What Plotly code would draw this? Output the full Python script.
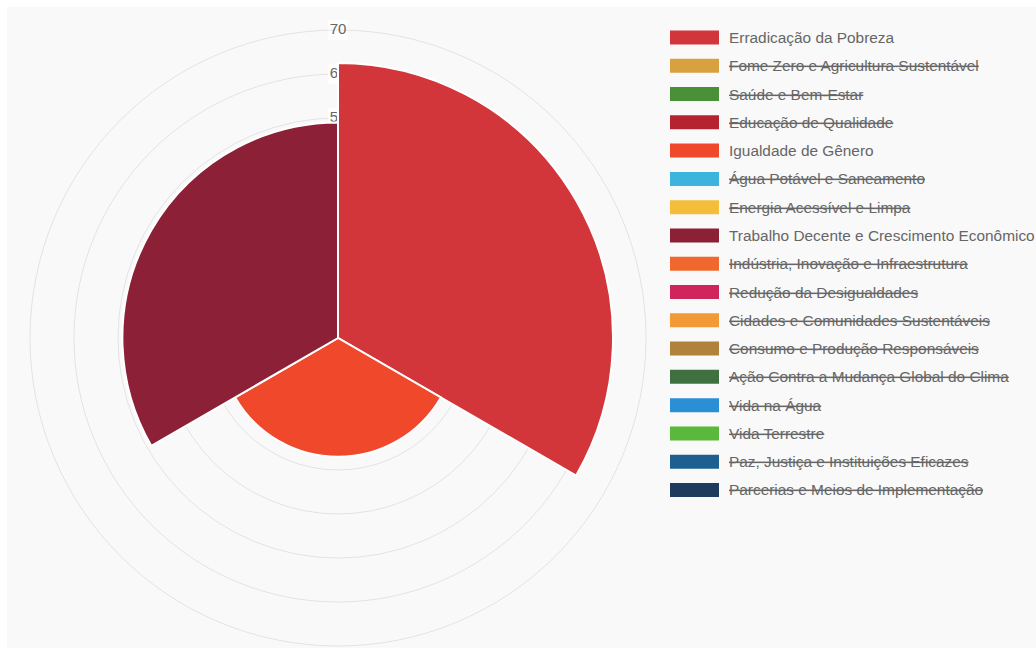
import plotly.graph_objects as go

# Sustainable Development Goals and their scores (hidden goals carry no value)
goals = [
    "Erradicação da Pobreza",
    "Fome Zero e Agricultura Sustentável",
    "Saúde e Bem-Estar",
    "Educação de Qualidade",
    "Igualdade de Gênero",
    "Água Potável e Saneamento",
    "Energia Acessível e Limpa",
    "Trabalho Decente e Crescimento Econômico",
    "Indústria, Inovação e Infraestrutura",
    "Redução da Desigualdades",
    "Cidades e Comunidades Sustentáveis",
    "Consumo e Produção Responsáveis",
    "Ação Contra a Mudança Global do Clima",
    "Vida na Água",
    "Vida Terrestre",
    "Paz, Justiça e Instituições Eficazes",
    "Parcerias e Meios de Implementação",
]
scores = [62.5, None, None, None, 27, None, None, 49, None,
          None, None, None, None, None, None, None, None]
shown = [True, False, False, False, True, False, False, True, False,
         False, False, False, False, False, False, False, False]
colors = [
    "#D3363A", "#D9A040", "#4A9038", "#B5232E", "#F0482A", "#3CB4DC",
    "#F5BE3A", "#8C2036", "#F0682E", "#CF255C", "#F29A35", "#B0823A",
    "#3E7040", "#2A8FD5", "#5AB83A", "#1D5F8F", "#1E3A5C",
]
ring_ticks = [10, 20, 30, 40, 50, 60, 70]
r_max = 70

grid_color = "rgba(0,0,0,0.09)"
text_color = "#666666"
font_family = "Liberation Sans, Arial, sans-serif"

W, H = 1036, 650
cx, cy, R = 338, 338, 308
dom_x = [(cx - R) / W, (cx + R) / W]
dom_y = [1 - (cy + R) / H, 1 - (cy - R) / H]

fig = go.Figure()

# Scale labels (bottom polar, drawn beneath the wedges)
fig.add_trace(go.Scatterpolar(
    r=ring_ticks,
    theta=[0] * len(ring_ticks),
    mode="markers+text",
    text=[str(t) for t in ring_ticks],
    textposition="middle center",
    textfont=dict(size=15, color=text_color, family=font_family),
    marker=dict(symbol="square", size=20, color="rgba(255,255,255,0.75)"),
    hoverinfo="skip",
    showlegend=False,
    subplot="polar",
))

# Visible goals split the circle equally
vis_idx = [i for i, s in enumerate(shown) if s]
width = 360 / len(vis_idx)
fig.add_trace(go.Barpolar(
    r=[scores[i] for i in vis_idx],
    theta=[width * (k + 0.5) for k in range(len(vis_idx))],
    width=[width] * len(vis_idx),
    marker=dict(color=[colors[i] for i in vis_idx],
                line=dict(color="white", width=2)),
    text=[goals[i] for i in vis_idx],
    hoverinfo="text+r",
    showlegend=False,
    subplot="polar2",
))

fig.update_layout(
    width=W, height=H,
    margin=dict(l=0, r=0, t=0, b=0),
    paper_bgcolor="white",
    showlegend=False,
    font=dict(family=font_family, color=text_color),
    polar=dict(
        domain=dict(x=dom_x, y=dom_y),
        bgcolor="rgba(0,0,0,0)",
        radialaxis=dict(range=[0, r_max], tickvals=ring_ticks[:-1],
                        showticklabels=False, ticks="", showline=False,
                        showgrid=True, gridcolor=grid_color, gridwidth=1),
        angularaxis=dict(direction="clockwise", rotation=90,
                         showgrid=False, showticklabels=False, ticks="",
                         showline=True, linecolor=grid_color, linewidth=1),
    ),
    polar2=dict(
        domain=dict(x=dom_x, y=dom_y),
        bgcolor="rgba(0,0,0,0)",
        radialaxis=dict(range=[0, r_max], visible=False),
        angularaxis=dict(direction="clockwise", rotation=90, visible=False),
    ),
)

# Panel background
shapes = [dict(type="rect", xref="paper", yref="paper",
               x0=7 / W, x1=1, y0=1 - 648 / H, y1=1 - 7 / H,
               fillcolor="#f9f9f9", line=dict(width=0), layer="below")]

# Legend: colour box + label, struck through when the goal is hidden
annotations = []
row0, row_gap = 37.5, 28.28
for i, (name, col, on) in enumerate(zip(goals, colors, shown)):
    yc = row0 + i * row_gap
    shapes.append(dict(type="rect", xref="paper", yref="paper",
                       x0=670 / W, x1=719 / W,
                       y0=1 - (yc + 7) / H, y1=1 - (yc - 7) / H,
                       fillcolor=col, line=dict(width=0)))
    annotations.append(dict(xref="paper", yref="paper",
                            x=727 / W, y=1 - yc / H,
                            xanchor="left", yanchor="middle",
                            text=name if on else f"<s>{name}</s>",
                            showarrow=False,
                            font=dict(size=15.4, color=text_color,
                                      family=font_family)))

fig.update_layout(shapes=shapes, annotations=annotations)

fig.write_html("out.html")
